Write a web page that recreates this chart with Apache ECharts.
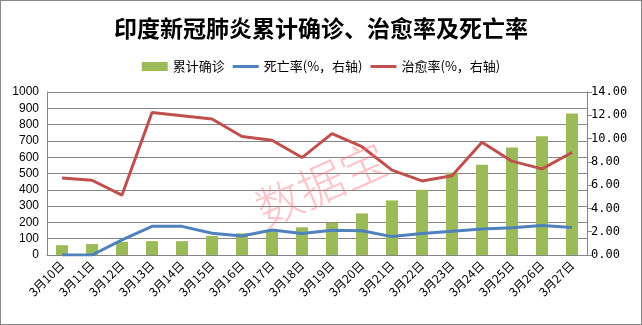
<!DOCTYPE html>
<html>
<head>
<meta charset="utf-8">
<script src="https://cdn.jsdelivr.net/npm/echarts@6/dist/echarts.min.js"></script>
<style>
  html, body { margin: 0; padding: 0; background: #fff; }
  #chart { width: 642px; height: 325px; box-sizing: border-box; border: 1px solid #888; }
</style>
</head>
<body>
<div id="chart"></div>
<script>
// India COVID-19: cumulative confirmed cases, recovery rate and death rate (March)
const dates = ['3月10日','3月11日','3月12日','3月13日','3月14日','3月15日','3月16日','3月17日','3月18日',
               '3月19日','3月20日','3月21日','3月22日','3月23日','3月24日','3月25日','3月26日','3月27日'];
const confirmed = [60, 67, 81, 85, 85, 117, 133, 150, 170, 198, 255, 335, 400, 505, 553, 660, 729, 868];
const deathRate = [0.00, 0.00, 1.30, 2.46, 2.46, 1.87, 1.64, 2.15, 1.84, 2.12, 2.09, 1.58, 1.84, 2.04, 2.23, 2.35, 2.54, 2.37];
const recoveryRate = [6.62, 6.42, 5.15, 12.24, 11.96, 11.68, 10.18, 9.86, 8.37, 10.43, 9.30, 7.29, 6.36, 6.81, 9.69, 8.06, 7.40, 8.80];

const chart = echarts.init(document.getElementById('chart'));
const gridColor = '#868686';
const lineIcon = 'path://M0,0 L26,0 L26,3 L0,3 Z';

chart.setOption({
  animation: false,
  title: {
    text: '印度新冠肺炎累计确诊、治愈率及死亡率',
    left: 'center',
    top: 11,
    textStyle: { fontSize: 23, fontWeight: 'bold', color: '#000', fontFamily: 'Noto Sans CJK SC' }
  },
  legend: {
    top: 54,
    left: 'center',
    itemGap: 8,
    itemWidth: 26,
    itemHeight: 9,
    textStyle: { fontSize: 13, color: '#000', fontFamily: 'Noto Sans CJK SC' },
    data: [
      { name: '累计确诊', icon: 'rect' },
      { name: '死亡率(%，右轴)', icon: lineIcon },
      { name: '治愈率(%，右轴)', icon: lineIcon }
    ]
  },
  grid: { left: 46, right: 54, top: 91, bottom: 69 },
  xAxis: {
    type: 'category',
    data: dates,
    boundaryGap: true,
    axisLine: { lineStyle: { color: gridColor, width: 1 } },
    axisTick: { show: false },
    axisLabel: { rotate: 45, fontSize: 12, color: '#000', margin: 8, interval: 0, fontFamily: 'Noto Sans CJK SC' }
  },
  yAxis: [
    {
      type: 'value', min: 0, max: 1000, interval: 100,
      axisLine: { show: true, lineStyle: { color: gridColor } },
      axisTick: { show: false },
      splitLine: { lineStyle: { color: gridColor, width: 1 } },
      axisLabel: { color: '#000', fontSize: 12, margin: 8, fontFamily: 'Liberation Sans, Arial, sans-serif',
                   formatter: v => String(v) }
    },
    {
      type: 'value', min: 0, max: 14, interval: 2,
      position: 'right',
      axisLine: { show: true, lineStyle: { color: gridColor } },
      axisTick: { show: true, length: 5, lineStyle: { color: gridColor } },
      splitLine: { show: false },
      axisLabel: { color: '#000', fontSize: 12, fontFamily: 'DejaVu Sans Mono, monospace', margin: 4,
                   formatter: v => v.toFixed(2) }
    }
  ],
  series: [
    {
      name: '累计确诊', type: 'bar', data: confirmed, barWidth: 12,
      itemStyle: { color: '#9BBB59' }
    },
    {
      name: '死亡率(%，右轴)', type: 'line', yAxisIndex: 1, data: deathRate,
      symbol: 'none', lineStyle: { color: '#4F81BD', width: 3 }, itemStyle: { color: '#4F81BD' }
    },
    {
      name: '治愈率(%，右轴)', type: 'line', yAxisIndex: 1, data: recoveryRate,
      symbol: 'none', lineStyle: { color: '#C0504D', width: 3 }, itemStyle: { color: '#C0504D' }
    }
  ],
  graphic: [
    {
      type: 'text',
      x: 320, y: 183,
      rotation: 0.42,
      style: {
        text: '数据宝',
        fontSize: 46,
        fontFamily: 'Noto Sans CJK SC',
        fontWeight: 300,
        fill: 'rgba(255, 120, 130, 0.45)',
        align: 'center',
        verticalAlign: 'middle'
      },
      z: 100
    }
  ]
});
</script>
</body>
</html>
